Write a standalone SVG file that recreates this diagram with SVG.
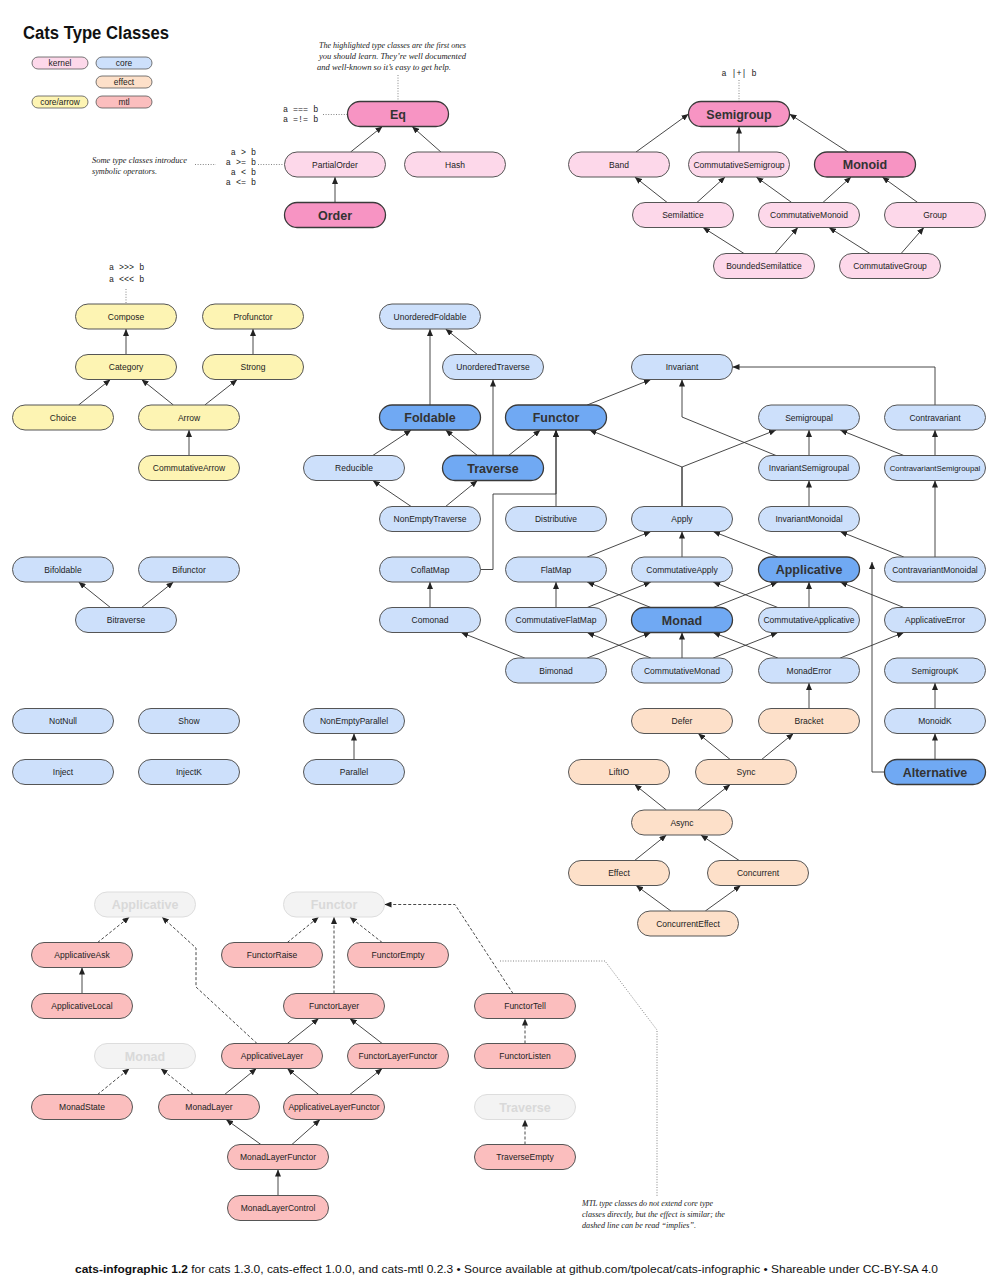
<svg xmlns="http://www.w3.org/2000/svg" width="1005" height="1280" viewBox="0 0 1005 1280">
<defs>
<marker id="ah" viewBox="0 0 7 6" refX="7" refY="3" markerWidth="7" markerHeight="6" markerUnits="userSpaceOnUse" orient="auto"><path d="M0,0 L7,3 L0,6 z" fill="#222"/></marker>
<style>
.n rect{stroke:#555;stroke-width:1}
.n text{font-family:"Liberation Sans",Arial,Helvetica,sans-serif;font-size:8.5px;text-anchor:middle;fill:#222}
.b rect{stroke:#3a3a3a;stroke-width:1.3}
.b text{font-size:12.5px;font-weight:bold;fill:#333}
.k rect{fill:#fdd8ea}
.kb rect{fill:#f794c3}
.c rect{fill:#cde0fb}
.cb rect{fill:#70a9f3}
.a rect{fill:#fdf4b3}
.ef rect{fill:#fde0c9}
.m rect{fill:#fbbebe}
.g rect{fill:#f3f3f3;stroke:#dddddd}
.g text{fill:#d9d9d9;font-size:12.5px;font-weight:bold}
.lg rect{stroke:#555;stroke-width:0.8}
.lg text{font-family:"Liberation Sans",Arial,sans-serif;font-size:8.4px;text-anchor:middle;fill:#222}
.e line,.e polyline{stroke:#333;stroke-width:0.9;fill:none;marker-end:url(#ah)}
.e .d{stroke-dasharray:3 2}
.dot{stroke:#777;stroke-width:0.9;fill:none;stroke-dasharray:1 1.6}
.mono{font-family:"Liberation Mono","DejaVu Sans Mono",monospace;font-size:8.4px;fill:#222}
.it{font-family:"Liberation Serif","Times New Roman",serif;font-style:italic;font-size:9px;fill:#222}
</style>
</defs>
<rect width="1005" height="1280" fill="#ffffff"/>

<text x="23" y="39" font-family="Liberation Sans,Arial,sans-serif" font-size="17.5" font-weight="bold" fill="#111" textLength="146" lengthAdjust="spacingAndGlyphs">Cats Type Classes</text>

<g id="legend" class="lg">
<rect x="32" y="57" width="56" height="12" rx="6" fill="#fdd8ea"/><text x="60" y="66">kernel</text>
<rect x="96" y="57" width="56" height="12" rx="6" fill="#cde0fb"/><text x="124" y="66">core</text>
<rect x="96" y="76" width="56" height="12" rx="6" fill="#fde0c9"/><text x="124" y="85">effect</text>
<rect x="32" y="96" width="56" height="12" rx="6" fill="#fdf4b3"/><text x="60" y="105">core/arrow</text>
<rect x="96" y="96" width="56" height="12" rx="6" fill="#fbbebe"/><text x="124" y="105">mtl</text>
</g>

<g id="annotations">
<text class="it" x="319" y="48" textLength="147" lengthAdjust="spacingAndGlyphs">The highlighted type classes are the first ones</text>
<text class="it" x="319" y="59" textLength="147" lengthAdjust="spacingAndGlyphs">you should learn. They’re well documented</text>
<text class="it" x="317" y="70" textLength="134" lengthAdjust="spacingAndGlyphs">and well-known so it’s easy to get help.</text>
<text class="it" x="92" y="163" textLength="95" lengthAdjust="spacingAndGlyphs">Some type classes introduce</text>
<text class="it" x="92" y="174" textLength="65" lengthAdjust="spacingAndGlyphs">symbolic operators.</text>
<text class="mono" x="283" y="112">a === b</text>
<text class="mono" x="283" y="122">a =!= b</text>
<text class="mono" x="256" y="155" text-anchor="end">a &gt; b</text>
<text class="mono" x="256" y="165" text-anchor="end">a &gt;= b</text>
<text class="mono" x="256" y="175" text-anchor="end">a &lt; b</text>
<text class="mono" x="256" y="185" text-anchor="end">a &lt;= b</text>
<text class="mono" x="739" y="75.5" text-anchor="middle">a |+| b</text>
<text class="mono" x="109" y="270">a &gt;&gt;&gt; b</text>
<text class="mono" x="109" y="282">a &lt;&lt;&lt; b</text>
<text class="it" x="582" y="1206" textLength="131" lengthAdjust="spacingAndGlyphs">MTL type classes do not extend core type</text>
<text class="it" x="582" y="1216.5" textLength="143" lengthAdjust="spacingAndGlyphs">classes directly, but the effect is similar; the</text>
<text class="it" x="582" y="1227.5" textLength="114" lengthAdjust="spacingAndGlyphs">dashed line can be read “implies”.</text>
<line class="dot" x1="398" y1="75" x2="398" y2="101"/>
<line class="dot" x1="323" y1="114.5" x2="347" y2="114.5"/>
<line class="dot" x1="258" y1="164.5" x2="284" y2="164.5"/>
<line class="dot" x1="195" y1="164.5" x2="216" y2="164.5"/>
<line class="dot" x1="739" y1="80" x2="739" y2="101"/>
<line class="dot" x1="126" y1="289" x2="126" y2="303"/>
<polyline class="dot" points="500,961 605,961 657,1030 657,1196"/>
</g>

<g id="connectors" class="e">
<line x1="350.6" y1="152" x2="382.4" y2="126.5"/>
<line x1="440.9" y1="152" x2="412.1" y2="126.5"/>
<line x1="335" y1="202.5" x2="335" y2="177"/>
<line x1="636" y1="152" x2="688.5" y2="114"/>
<line x1="739" y1="152" x2="739" y2="126.5"/>
<line x1="848" y1="152" x2="789.5" y2="114"/>
<line x1="667.2" y1="202.5" x2="634.8" y2="177"/>
<line x1="696.9" y1="202.5" x2="725.1" y2="177"/>
<line x1="791.7" y1="202.5" x2="756.3" y2="177"/>
<line x1="822.9" y1="202.5" x2="851.1" y2="177"/>
<line x1="917.7" y1="202.5" x2="882.3" y2="177"/>
<line x1="744" y1="253.5" x2="703" y2="227.5"/>
<line x1="775.1" y1="253.5" x2="797.9" y2="227.5"/>
<line x1="870" y1="253.5" x2="829" y2="227.5"/>
<line x1="901.1" y1="253.5" x2="923.9" y2="227.5"/>

<line x1="126" y1="354.5" x2="126" y2="329"/>
<line x1="253" y1="354.5" x2="253" y2="329"/>
<line x1="78.6" y1="405" x2="110.4" y2="379.5"/>
<line x1="173.4" y1="405" x2="141.6" y2="379.5"/>
<line x1="204.8" y1="405" x2="237.2" y2="379.5"/>
<line x1="189" y1="455.5" x2="189" y2="430"/>

<line x1="430" y1="405" x2="430" y2="329"/>
<line x1="477.4" y1="354.5" x2="445.6" y2="329"/>
<line x1="493" y1="455.5" x2="493" y2="379.5"/>
<line x1="477.4" y1="455.5" x2="445.6" y2="430"/>
<line x1="508.6" y1="455.5" x2="540.4" y2="430"/>
<line x1="372.8" y1="455.5" x2="411.2" y2="430"/>
<line x1="411.2" y1="506.5" x2="372.8" y2="480.5"/>
<line x1="445.6" y1="506.5" x2="477.4" y2="480.5"/>
<line x1="556" y1="506.5" x2="556" y2="430"/>
<polyline points="480.5,569.5 493,569.5 493,494 556,494 556,430"/>
<line x1="587.2" y1="405" x2="650.8" y2="379.5"/>
<polyline points="682,506.5 682,467 589.5,430"/>
<polyline points="682,506.5 682,467 776,430"/>
<polyline points="776,455.5 682,417 682,379.5"/>
<line x1="809" y1="455.5" x2="809" y2="430"/>
<line x1="903.8" y1="455.5" x2="840.2" y2="430"/>
<line x1="935" y1="455.5" x2="935" y2="430"/>
<polyline points="935,405 935,367 732.5,367"/>
<line x1="809" y1="506.5" x2="809" y2="480.5"/>
<line x1="935" y1="557" x2="935" y2="480.5"/>
<line x1="903.8" y1="557" x2="840.2" y2="531.5"/>
<line x1="777.8" y1="557" x2="713.2" y2="531.5"/>
<line x1="682" y1="557" x2="682" y2="531.5"/>
<line x1="587.2" y1="557" x2="650.8" y2="531.5"/>
<line x1="430" y1="607.5" x2="430" y2="582"/>
<line x1="556" y1="607.5" x2="556" y2="582"/>
<line x1="587.2" y1="607.5" x2="650.8" y2="582"/>
<line x1="650.8" y1="607.5" x2="587.2" y2="582"/>
<line x1="713.2" y1="607.5" x2="777.8" y2="582"/>
<line x1="777.8" y1="607.5" x2="713.2" y2="582"/>
<line x1="809" y1="607.5" x2="809" y2="582"/>
<line x1="903.8" y1="607.5" x2="840.2" y2="582"/>
<line x1="524.8" y1="658" x2="461.2" y2="632.5"/>
<line x1="587.2" y1="658" x2="650.8" y2="632.5"/>
<line x1="650.8" y1="658" x2="587.2" y2="632.5"/>
<line x1="682" y1="658" x2="682" y2="632.5"/>
<line x1="713.2" y1="658" x2="777.8" y2="632.5"/>
<line x1="777.8" y1="658" x2="713.2" y2="632.5"/>
<line x1="840.2" y1="658" x2="903.8" y2="632.5"/>
<line x1="809" y1="708.5" x2="809" y2="683"/>
<line x1="935" y1="708.5" x2="935" y2="683"/>
<line x1="935" y1="759.5" x2="935" y2="733.5"/>
<polyline points="884.5,772 872,772 872,562"/>
<line x1="354" y1="759.5" x2="354" y2="733.5"/>
<line x1="110.4" y1="607.5" x2="78.6" y2="582"/>
<line x1="141.6" y1="607.5" x2="173.4" y2="582"/>

<line x1="730.2" y1="759.5" x2="698.2" y2="733.5"/>
<line x1="761.6" y1="759.5" x2="793.4" y2="733.5"/>
<line x1="666.4" y1="810" x2="634.6" y2="784.5"/>
<line x1="697.8" y1="810" x2="730.2" y2="784.5"/>
<line x1="634.6" y1="860.5" x2="666.4" y2="835"/>
<line x1="739.2" y1="860.5" x2="700.8" y2="835"/>
<line x1="670.9" y1="911" x2="636.1" y2="885.5"/>
<line x1="705.3" y1="911" x2="740.7" y2="885.5"/>

<line x1="82" y1="993.5" x2="82" y2="967.5"/>
<line x1="287.3" y1="1043.5" x2="318.7" y2="1018.5"/>
<line x1="382.2" y1="1043.5" x2="349.8" y2="1018.5"/>
<line x1="224.6" y1="1094.5" x2="256.4" y2="1068.5"/>
<line x1="318.7" y1="1094.5" x2="287.3" y2="1068.5"/>
<line x1="349.8" y1="1094.5" x2="382.2" y2="1068.5"/>
<line x1="260.9" y1="1144.5" x2="226.1" y2="1119.5"/>
<line x1="291.9" y1="1144.5" x2="320.1" y2="1119.5"/>
<line x1="278" y1="1195.5" x2="278" y2="1169.5"/>

<line class="d" x1="97.6" y1="942.5" x2="129.4" y2="917"/>
<line class="d" x1="287.3" y1="942.5" x2="318.7" y2="917"/>
<line class="d" x1="382.2" y1="942.5" x2="349.8" y2="917"/>
<line class="d" x1="334" y1="993.5" x2="334" y2="917"/>
<polyline class="d" points="257,1043.5 196,987 196,948 162,917"/>
<line class="d" x1="97.6" y1="1094.5" x2="129.4" y2="1068.5"/>
<line class="d" x1="193.2" y1="1094.5" x2="160.8" y2="1068.5"/>
<polyline class="d" points="513,993.5 455,904.5 384.5,904.5"/>
<line class="d" x1="525" y1="1043.5" x2="525" y2="1018.5"/>
<line class="d" x1="525" y1="1144.5" x2="525" y2="1119.5"/>
</g>

<g id="Eq" class="n b kb"><rect x="347.5" y="101.5" width="101" height="25" rx="12.5"/><text x="398" y="118.5">Eq</text></g>
<g id="Semigroup" class="n b kb"><rect x="688.5" y="101.5" width="101" height="25" rx="12.5"/><text x="739" y="118.5">Semigroup</text></g>
<g id="PartialOrder" class="n k"><rect x="284.5" y="152" width="101" height="25" rx="12.5"/><text x="335" y="167.5">PartialOrder</text></g>
<g id="Hash" class="n k"><rect x="404.5" y="152" width="101" height="25" rx="12.5"/><text x="455" y="167.5">Hash</text></g>
<g id="Band" class="n k"><rect x="568.5" y="152" width="101" height="25" rx="12.5"/><text x="619" y="167.5">Band</text></g>
<g id="CommutativeSemigroup" class="n k"><rect x="688.5" y="152" width="101" height="25" rx="12.5"/><text x="739" y="167.5">CommutativeSemigroup</text></g>
<g id="Monoid" class="n b kb"><rect x="814.5" y="152" width="101" height="25" rx="12.5"/><text x="865" y="169">Monoid</text></g>
<g id="Order" class="n b kb"><rect x="284.5" y="202.5" width="101" height="25" rx="12.5"/><text x="335" y="219.5">Order</text></g>
<g id="Semilattice" class="n k"><rect x="632.5" y="202.5" width="101" height="25" rx="12.5"/><text x="683" y="218">Semilattice</text></g>
<g id="CommutativeMonoid" class="n k"><rect x="758.5" y="202.5" width="101" height="25" rx="12.5"/><text x="809" y="218">CommutativeMonoid</text></g>
<g id="Group" class="n k"><rect x="884.5" y="202.5" width="101" height="25" rx="12.5"/><text x="935" y="218">Group</text></g>
<g id="BoundedSemilattice" class="n k"><rect x="713.5" y="253.5" width="101" height="25" rx="12.5"/><text x="764" y="269">BoundedSemilattice</text></g>
<g id="CommutativeGroup" class="n k"><rect x="839.5" y="253.5" width="101" height="25" rx="12.5"/><text x="890" y="269">CommutativeGroup</text></g>

<g id="Compose" class="n a"><rect x="75.5" y="304" width="101" height="25" rx="12.5"/><text x="126" y="319.5">Compose</text></g>
<g id="Profunctor" class="n a"><rect x="202.5" y="304" width="101" height="25" rx="12.5"/><text x="253" y="319.5">Profunctor</text></g>
<g id="Category" class="n a"><rect x="75.5" y="354.5" width="101" height="25" rx="12.5"/><text x="126" y="370">Category</text></g>
<g id="Strong" class="n a"><rect x="202.5" y="354.5" width="101" height="25" rx="12.5"/><text x="253" y="370">Strong</text></g>
<g id="Choice" class="n a"><rect x="12.5" y="405" width="101" height="25" rx="12.5"/><text x="63" y="420.5">Choice</text></g>
<g id="Arrow" class="n a"><rect x="138.5" y="405" width="101" height="25" rx="12.5"/><text x="189" y="420.5">Arrow</text></g>
<g id="CommutativeArrow" class="n a"><rect x="138.5" y="455.5" width="101" height="25" rx="12.5"/><text x="189" y="471">CommutativeArrow</text></g>

<g id="UnorderedFoldable" class="n c"><rect x="379.5" y="304" width="101" height="25" rx="12.5"/><text x="430" y="319.5">UnorderedFoldable</text></g>
<g id="UnorderedTraverse" class="n c"><rect x="442.5" y="354.5" width="101" height="25" rx="12.5"/><text x="493" y="370">UnorderedTraverse</text></g>
<g id="Invariant" class="n c"><rect x="631.5" y="354.5" width="101" height="25" rx="12.5"/><text x="682" y="370">Invariant</text></g>
<g id="Foldable" class="n b cb"><rect x="379.5" y="405" width="101" height="25" rx="12.5"/><text x="430" y="422">Foldable</text></g>
<g id="Functor" class="n b cb"><rect x="505.5" y="405" width="101" height="25" rx="12.5"/><text x="556" y="422">Functor</text></g>
<g id="Semigroupal" class="n c"><rect x="758.5" y="405" width="101" height="25" rx="12.5"/><text x="809" y="420.5">Semigroupal</text></g>
<g id="Contravariant" class="n c"><rect x="884.5" y="405" width="101" height="25" rx="12.5"/><text x="935" y="420.5">Contravariant</text></g>
<g id="Reducible" class="n c"><rect x="303.5" y="455.5" width="101" height="25" rx="12.5"/><text x="354" y="471">Reducible</text></g>
<g id="Traverse" class="n b cb"><rect x="442.5" y="455.5" width="101" height="25" rx="12.5"/><text x="493" y="472.5">Traverse</text></g>
<g id="InvariantSemigroupal" class="n c"><rect x="758.5" y="455.5" width="101" height="25" rx="12.5"/><text x="809" y="471">InvariantSemigroupal</text></g>
<g id="ContravariantSemigroupal" class="n c"><rect x="884.5" y="455.5" width="101" height="25" rx="12.5"/><text x="935" y="471" style="font-size:7.8px">ContravariantSemigroupal</text></g>
<g id="NonEmptyTraverse" class="n c"><rect x="379.5" y="506.5" width="101" height="25" rx="12.5"/><text x="430" y="522">NonEmptyTraverse</text></g>
<g id="Distributive" class="n c"><rect x="505.5" y="506.5" width="101" height="25" rx="12.5"/><text x="556" y="522">Distributive</text></g>
<g id="Apply" class="n c"><rect x="631.5" y="506.5" width="101" height="25" rx="12.5"/><text x="682" y="522">Apply</text></g>
<g id="InvariantMonoidal" class="n c"><rect x="758.5" y="506.5" width="101" height="25" rx="12.5"/><text x="809" y="522">InvariantMonoidal</text></g>
<g id="Bifoldable" class="n c"><rect x="12.5" y="557" width="101" height="25" rx="12.5"/><text x="63" y="572.5">Bifoldable</text></g>
<g id="Bifunctor" class="n c"><rect x="138.5" y="557" width="101" height="25" rx="12.5"/><text x="189" y="572.5">Bifunctor</text></g>
<g id="CoflatMap" class="n c"><rect x="379.5" y="557" width="101" height="25" rx="12.5"/><text x="430" y="572.5">CoflatMap</text></g>
<g id="FlatMap" class="n c"><rect x="505.5" y="557" width="101" height="25" rx="12.5"/><text x="556" y="572.5">FlatMap</text></g>
<g id="CommutativeApply" class="n c"><rect x="631.5" y="557" width="101" height="25" rx="12.5"/><text x="682" y="572.5">CommutativeApply</text></g>
<g id="Applicative" class="n b cb"><rect x="758.5" y="557" width="101" height="25" rx="12.5"/><text x="809" y="574">Applicative</text></g>
<g id="ContravariantMonoidal" class="n c"><rect x="884.5" y="557" width="101" height="25" rx="12.5"/><text x="935" y="572.5">ContravariantMonoidal</text></g>
<g id="Bitraverse" class="n c"><rect x="75.5" y="607.5" width="101" height="25" rx="12.5"/><text x="126" y="623">Bitraverse</text></g>
<g id="Comonad" class="n c"><rect x="379.5" y="607.5" width="101" height="25" rx="12.5"/><text x="430" y="623">Comonad</text></g>
<g id="CommutativeFlatMap" class="n c"><rect x="505.5" y="607.5" width="101" height="25" rx="12.5"/><text x="556" y="623">CommutativeFlatMap</text></g>
<g id="Monad" class="n b cb"><rect x="631.5" y="607.5" width="101" height="25" rx="12.5"/><text x="682" y="624.5">Monad</text></g>
<g id="CommutativeApplicative" class="n c"><rect x="758.5" y="607.5" width="101" height="25" rx="12.5"/><text x="809" y="623">CommutativeApplicative</text></g>
<g id="ApplicativeError" class="n c"><rect x="884.5" y="607.5" width="101" height="25" rx="12.5"/><text x="935" y="623">ApplicativeError</text></g>
<g id="Bimonad" class="n c"><rect x="505.5" y="658" width="101" height="25" rx="12.5"/><text x="556" y="673.5">Bimonad</text></g>
<g id="CommutativeMonad" class="n c"><rect x="631.5" y="658" width="101" height="25" rx="12.5"/><text x="682" y="673.5">CommutativeMonad</text></g>
<g id="MonadError" class="n c"><rect x="758.5" y="658" width="101" height="25" rx="12.5"/><text x="809" y="673.5">MonadError</text></g>
<g id="SemigroupK" class="n c"><rect x="884.5" y="658" width="101" height="25" rx="12.5"/><text x="935" y="673.5">SemigroupK</text></g>
<g id="NotNull" class="n c"><rect x="12.5" y="708.5" width="101" height="25" rx="12.5"/><text x="63" y="724">NotNull</text></g>
<g id="Show" class="n c"><rect x="138.5" y="708.5" width="101" height="25" rx="12.5"/><text x="189" y="724">Show</text></g>
<g id="NonEmptyParallel" class="n c"><rect x="303.5" y="708.5" width="101" height="25" rx="12.5"/><text x="354" y="724">NonEmptyParallel</text></g>
<g id="MonoidK" class="n c"><rect x="884.5" y="708.5" width="101" height="25" rx="12.5"/><text x="935" y="724">MonoidK</text></g>
<g id="Inject" class="n c"><rect x="12.5" y="759.5" width="101" height="25" rx="12.5"/><text x="63" y="775">Inject</text></g>
<g id="InjectK" class="n c"><rect x="138.5" y="759.5" width="101" height="25" rx="12.5"/><text x="189" y="775">InjectK</text></g>
<g id="Parallel" class="n c"><rect x="303.5" y="759.5" width="101" height="25" rx="12.5"/><text x="354" y="775">Parallel</text></g>
<g id="Alternative" class="n b cb"><rect x="884.5" y="759.5" width="101" height="25" rx="12.5"/><text x="935" y="776.5">Alternative</text></g>

<g id="Defer" class="n ef"><rect x="631.5" y="708.5" width="101" height="25" rx="12.5"/><text x="682" y="724">Defer</text></g>
<g id="Bracket" class="n ef"><rect x="758.5" y="708.5" width="101" height="25" rx="12.5"/><text x="809" y="724">Bracket</text></g>
<g id="LiftIO" class="n ef"><rect x="568.5" y="759.5" width="101" height="25" rx="12.5"/><text x="619" y="775">LiftIO</text></g>
<g id="Sync" class="n ef"><rect x="695.5" y="759.5" width="101" height="25" rx="12.5"/><text x="746" y="775">Sync</text></g>
<g id="Async" class="n ef"><rect x="631.5" y="810" width="101" height="25" rx="12.5"/><text x="682" y="825.5">Async</text></g>
<g id="Effect" class="n ef"><rect x="568.5" y="860.5" width="101" height="25" rx="12.5"/><text x="619" y="876">Effect</text></g>
<g id="Concurrent" class="n ef"><rect x="707.5" y="860.5" width="101" height="25" rx="12.5"/><text x="758" y="876">Concurrent</text></g>
<g id="ConcurrentEffect" class="n ef"><rect x="637.5" y="911" width="101" height="25" rx="12.5"/><text x="688" y="926.5">ConcurrentEffect</text></g>

<g id="ghost-Applicative" class="n g"><rect x="94.5" y="892" width="101" height="25" rx="12.5"/><text x="145" y="909">Applicative</text></g>
<g id="ghost-Functor" class="n g"><rect x="283.5" y="892" width="101" height="25" rx="12.5"/><text x="334" y="909">Functor</text></g>
<g id="ApplicativeAsk" class="n m"><rect x="31.5" y="942.5" width="101" height="25" rx="12.5"/><text x="82" y="958">ApplicativeAsk</text></g>
<g id="FunctorRaise" class="n m"><rect x="221.5" y="942.5" width="101" height="25" rx="12.5"/><text x="272" y="958">FunctorRaise</text></g>
<g id="FunctorEmpty" class="n m"><rect x="347.5" y="942.5" width="101" height="25" rx="12.5"/><text x="398" y="958">FunctorEmpty</text></g>
<g id="ApplicativeLocal" class="n m"><rect x="31.5" y="993.5" width="101" height="25" rx="12.5"/><text x="82" y="1009">ApplicativeLocal</text></g>
<g id="FunctorLayer" class="n m"><rect x="283.5" y="993.5" width="101" height="25" rx="12.5"/><text x="334" y="1009">FunctorLayer</text></g>
<g id="FunctorTell" class="n m"><rect x="474.5" y="993.5" width="101" height="25" rx="12.5"/><text x="525" y="1009">FunctorTell</text></g>
<g id="ghost-Monad" class="n g"><rect x="94.5" y="1043.5" width="101" height="25" rx="12.5"/><text x="145" y="1060.5">Monad</text></g>
<g id="ApplicativeLayer" class="n m"><rect x="221.5" y="1043.5" width="101" height="25" rx="12.5"/><text x="272" y="1059">ApplicativeLayer</text></g>
<g id="FunctorLayerFunctor" class="n m"><rect x="347.5" y="1043.5" width="101" height="25" rx="12.5"/><text x="398" y="1059">FunctorLayerFunctor</text></g>
<g id="FunctorListen" class="n m"><rect x="474.5" y="1043.5" width="101" height="25" rx="12.5"/><text x="525" y="1059">FunctorListen</text></g>
<g id="MonadState" class="n m"><rect x="31.5" y="1094.5" width="101" height="25" rx="12.5"/><text x="82" y="1110">MonadState</text></g>
<g id="MonadLayer" class="n m"><rect x="158.5" y="1094.5" width="101" height="25" rx="12.5"/><text x="209" y="1110">MonadLayer</text></g>
<g id="ApplicativeLayerFunctor" class="n m"><rect x="283.5" y="1094.5" width="101" height="25" rx="12.5"/><text x="334" y="1110">ApplicativeLayerFunctor</text></g>
<g id="ghost-Traverse" class="n g"><rect x="474.5" y="1094.5" width="101" height="25" rx="12.5"/><text x="525" y="1111.5">Traverse</text></g>
<g id="MonadLayerFunctor" class="n m"><rect x="227.5" y="1144.5" width="101" height="25" rx="12.5"/><text x="278" y="1160">MonadLayerFunctor</text></g>
<g id="TraverseEmpty" class="n m"><rect x="474.5" y="1144.5" width="101" height="25" rx="12.5"/><text x="525" y="1160">TraverseEmpty</text></g>
<g id="MonadLayerControl" class="n m"><rect x="227.5" y="1195.5" width="101" height="25" rx="12.5"/><text x="278" y="1211">MonadLayerControl</text></g>

<text x="506.5" y="1273" text-anchor="middle" font-family="Liberation Sans,Arial,sans-serif" font-size="11.5" fill="#111" textLength="863" lengthAdjust="spacingAndGlyphs"><tspan font-weight="bold">cats-infographic 1.2</tspan> for cats 1.3.0, cats-effect 1.0.0, and cats-mtl 0.2.3 • Source available at github.com/tpolecat/cats-infographic • Shareable under CC-BY-SA 4.0</text>
</svg>
